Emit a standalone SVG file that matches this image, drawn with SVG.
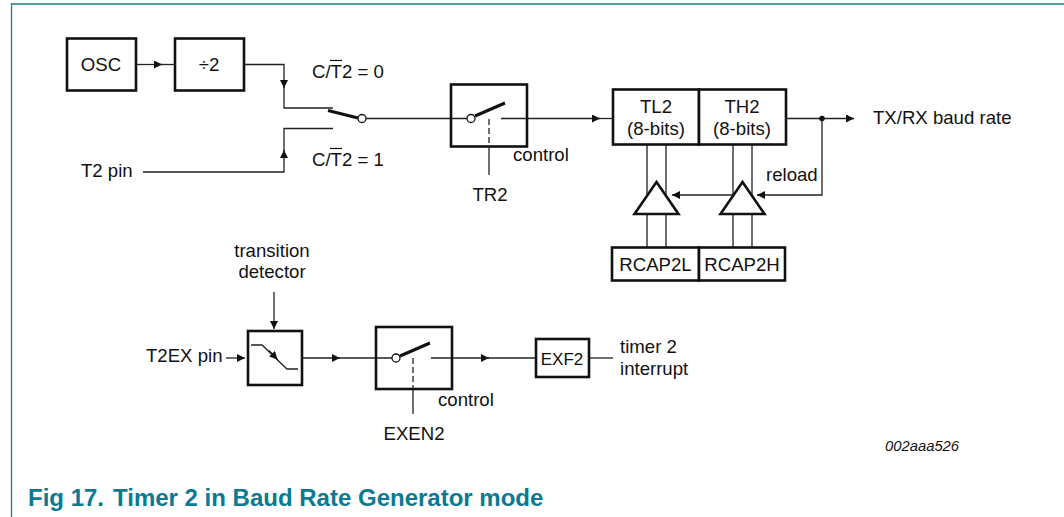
<svg xmlns="http://www.w3.org/2000/svg" width="1064" height="517" viewBox="0 0 1064 517">
<style>
text{font-family:"Liberation Sans",Arial,sans-serif;font-size:18.600px;fill:#111}
.m{text-anchor:middle}
.box{fill:#fff;stroke:#111;stroke-width:2.600}
.open{fill:none;stroke:#111;stroke-width:2.600}
.ln{fill:none;stroke:#222;stroke-width:1.300}
.th{fill:none;stroke:#111;stroke-width:3}
.pin{fill:#fff;stroke:#111;stroke-width:1.300}
.bar{stroke:#111;stroke-width:1.200}
.cap{font-weight:bold;font-size:24px;fill:#0a7a92}
</style>
<defs>
<marker id="a" markerUnits="userSpaceOnUse" markerWidth="9" markerHeight="8" refX="8" refY="4" orient="auto"><path d="M0 0L8 4L0 8Z" fill="#111"/></marker>
</defs>
<rect width="1064" height="517" fill="#fff"/>
<g id="frame"><path d="M11.500 517V4H1064" fill="none" stroke="#1b7a90" stroke-width="1.300"/></g>
<g id="connectors">
<path class="ln" d="M136 64.500H162" marker-end="url(#a)"/><path class="ln" d="M158 64.500H175"/>
<path class="ln" d="M244 64.500H284V88" marker-end="url(#a)"/><path class="ln" d="M284 84V108H333"/>
<path class="ln" d="M143 172H284V150" marker-end="url(#a)"/><path class="ln" d="M284 154V128.500H333"/>
<path class="ln" d="M366 118.500H467"/>
<path class="ln" d="M501 118.500H600" marker-end="url(#a)"/><path class="ln" d="M596 118.500H613"/>
<path class="ln" d="M786 118.500H854" marker-end="url(#a)"/>
<path class="ln" d="M647 144V248M666 144V248M733 144V248M752 144V248"/>
<path class="ln" d="M822 118.500V195H757" marker-end="url(#a)"/>
<path class="ln" d="M733 195H672" marker-end="url(#a)"/>
<path class="ln" d="M226 358H245" marker-end="url(#a)"/>
<path class="ln" d="M302 358H340" marker-end="url(#a)"/><path class="ln" d="M336 358H392"/>
<path class="ln" d="M431 358H489" marker-end="url(#a)"/><path class="ln" d="M485 358H536"/>
<path class="ln" d="M589 358H613"/>
<path class="ln" d="M274 292V329" marker-end="url(#a)"/>
</g>
<g id="osc"><rect class="box" x="67" y="38.500" width="69" height="52"/><text class="m" x="101" y="71">OSC</text></g>
<g id="div2"><rect class="box" x="175" y="38.500" width="69" height="52"/><text class="m" x="209" y="71">÷2</text></g>
<g id="t2pin"><text x="81" y="177">T2 pin</text></g>
<g id="sw1">
<path class="th" d="M328 110.500L358 118"/><circle class="pin" cx="362" cy="118.500" r="4"/>
<text x="312" y="78">C/T2 = 0</text><path class="bar" d="M330 60.500H342"/>
<text x="312" y="166">C/T2 = 1</text><path class="bar" d="M330 148.500H342"/>
</g>
<g id="tr2switch">
<rect class="open" x="451" y="84.500" width="76" height="62"/>
<path class="th" d="M475 116L505 103"/><circle class="pin" cx="471" cy="118.500" r="4"/>
<path class="ln" d="M489 119V146" stroke-dasharray="6 3"/><path class="ln" d="M489 146V175"/>
<text x="513" y="161">control</text><text class="m" x="490" y="201">TR2</text>
</g>
<g id="tl2"><rect class="box" x="613" y="89.500" width="86" height="55"/><text class="m" x="656" y="113">TL2</text><text class="m" x="656" y="135">(8-bits)</text></g>
<g id="th2"><rect class="box" x="699" y="89.500" width="87" height="55"/><text class="m" x="742" y="113">TH2</text><text class="m" x="742" y="135">(8-bits)</text></g>
<g id="output"><circle cx="822" cy="118.500" r="2.800" fill="#111"/><text x="873" y="124">TX/RX baud rate</text><text x="766" y="181">reload</text></g>
<g id="buf1"><path class="box" d="M656.500 182L678.500 214H634.500Z"/></g>
<g id="buf2"><path class="box" d="M742.500 182L764.500 214H720.500Z"/></g>
<g id="rcap2l"><rect class="box" x="612" y="247.500" width="87" height="33"/><text class="m" x="655.500" y="271">RCAP2L</text></g>
<g id="rcap2h"><rect class="box" x="699" y="247.500" width="86" height="33"/><text class="m" x="742" y="271">RCAP2H</text></g>
<g id="detector">
<text class="m" x="272" y="257">transition</text><text class="m" x="272" y="278">detector</text>
<rect class="open" x="248" y="331" width="54" height="54"/>
<path class="ln" d="M251 345H262L287 369H298"/><path class="ln" d="M269 350.500L277.500 359.500" marker-end="url(#a)"/>
<text x="146" y="362">T2EX pin</text>
</g>
<g id="exenswitch">
<rect class="open" x="376" y="327" width="76" height="62"/>
<path class="th" d="M400 356L430 343"/><circle class="pin" cx="396" cy="358" r="4"/>
<path class="ln" d="M413 358V389" stroke-dasharray="6 3"/><path class="ln" d="M413 389V414"/>
<text x="438" y="406">control</text><text class="m" x="414" y="440">EXEN2</text>
</g>
<g id="exf2"><rect class="box" x="536" y="339" width="53" height="38"/><text class="m" x="562" y="365" style="font-size:17px">EXF2</text></g>
<g id="interrupt"><text x="620" y="353">timer 2</text><text x="620" y="375">interrupt</text></g>
<text x="885" y="451" style="font-size:14.800px;font-style:italic">002aaa526</text>
<g id="caption"><text class="cap" x="28" y="506">Fig 17.</text><text class="cap" x="113" y="506">Timer 2 in Baud Rate Generator mode</text></g>
</svg>
